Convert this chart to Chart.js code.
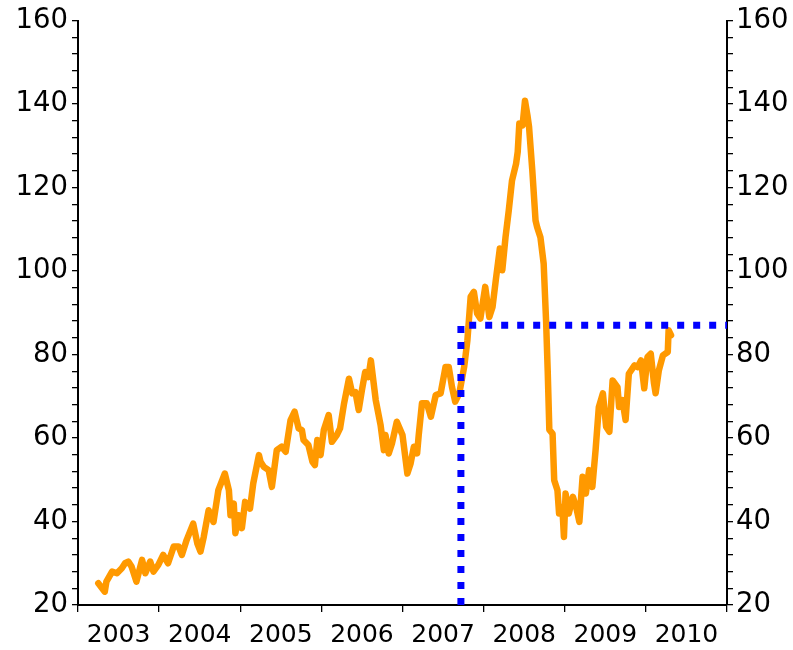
<!DOCTYPE html>
<html>
<head>
<meta charset="utf-8">
<script src="https://cdn.jsdelivr.net/npm/chart.js@4/dist/chart.umd.min.js"></script>
<style>
  html, body { margin: 0; padding: 0; background: #fff; }
  #wrap { width: 793px; height: 650px; position: relative; }
</style>
</head>
<body>
<div id="wrap"><canvas id="oilChart"></canvas></div>
<script>
/* ---------- data ---------- */
const priceDates = [
  2003.25, 2003.33, 2003.35, 2003.42, 2003.48, 2003.54, 2003.58, 2003.62, 2003.66, 2003.72,
  2003.79, 2003.83, 2003.89, 2003.93, 2003.99, 2004.05, 2004.11, 2004.18, 2004.24, 2004.28,
  2004.34, 2004.42, 2004.47, 2004.51, 2004.55, 2004.61, 2004.67, 2004.73, 2004.81, 2004.86,
  2004.88, 2004.92, 2004.94, 2004.98, 2005.02, 2005.06, 2005.12, 2005.16, 2005.23, 2005.25,
  2005.29, 2005.35, 2005.39, 2005.45, 2005.51, 2005.56, 2005.62, 2005.67, 2005.72, 2005.76,
  2005.78, 2005.84, 2005.89, 2005.92, 2005.95, 2005.99, 2006.03, 2006.09, 2006.13, 2006.19,
  2006.23, 2006.28, 2006.34, 2006.38, 2006.42, 2006.46, 2006.50, 2006.54, 2006.58, 2006.61,
  2006.67, 2006.73, 2006.77, 2006.79, 2006.83, 2006.87, 2006.93, 2007.00, 2007.06, 2007.10,
  2007.14, 2007.18, 2007.20, 2007.24, 2007.30, 2007.35, 2007.41, 2007.47, 2007.53, 2007.57,
  2007.61, 2007.65, 2007.70, 2007.76, 2007.80, 2007.84, 2007.88, 2007.92, 2007.96, 2008.02,
  2008.07, 2008.11, 2008.15, 2008.20, 2008.23, 2008.27, 2008.31, 2008.35, 2008.40, 2008.42,
  2008.44, 2008.48, 2008.51, 2008.54, 2008.56, 2008.60, 2008.64, 2008.66, 2008.70, 2008.74,
  2008.77, 2008.79, 2008.81, 2008.85, 2008.87, 2008.91, 2008.93, 2008.97, 2008.99, 2009.01,
  2009.05, 2009.10, 2009.14, 2009.18, 2009.22, 2009.26, 2009.30, 2009.34, 2009.38, 2009.42,
  2009.47, 2009.51, 2009.55, 2009.59, 2009.65, 2009.67, 2009.71, 2009.75, 2009.79, 2009.86,
  2009.90, 2009.94, 2009.98, 2010.02, 2010.06, 2010.10, 2010.12, 2010.16, 2010.21, 2010.27,
  2010.28, 2010.31
];
const oilPrice = [
  25.2, 23.2, 25.6, 28.0, 27.6, 28.8, 30.0, 30.4, 29.2, 25.6,
  30.8, 27.6, 30.4, 28.0, 29.6, 32.0, 30.0, 34.0, 34.0, 32.0,
  35.6, 39.5, 34.8, 32.8, 36.3, 42.7, 39.9, 47.5, 51.5, 47.5,
  41.5, 44.3, 37.2, 41.5, 38.4, 44.7, 43.1, 49.1, 55.9, 54.3,
  53.1, 52.3, 48.3, 57.1, 57.9, 56.7, 64.3, 66.3, 62.3, 61.9,
  59.5, 58.3, 54.3, 53.5, 59.5, 55.9, 61.9, 65.5, 59.1, 60.7,
  62.3, 68.3, 74.2, 70.7, 71.0, 66.7, 71.5, 75.8, 74.6, 78.6,
  69.1, 63.1, 57.1, 60.7, 56.3, 58.7, 63.9, 60.7, 51.5, 53.9,
  57.9, 56.3, 60.7, 68.3, 68.3, 65.1, 70.3, 70.7, 77.0, 77.0,
  72.2, 68.7, 70.7, 77.0, 83.4, 93.8, 95.0, 89.8, 88.6, 96.2,
  89.0, 91.4, 97.8, 105.4, 100.2, 108.1, 114.5, 121.7, 125.7, 128.5,
  135.3, 134.9, 140.8, 137.3, 134.5, 124.1, 112.1, 110.5, 108.1, 101.8,
  88.0, 76.0, 62.0, 61.0, 49.9, 47.5, 41.9, 43.5, 36.3, 46.7,
  41.9, 45.9, 43.5, 39.9, 50.7, 46.7, 52.3, 48.3, 57.1, 67.4,
  70.7, 62.7, 61.5, 73.8, 72.2, 67.4, 69.1, 64.3, 75.4, 77.4,
  77.0, 78.6, 71.9, 79.4, 80.2, 73.1, 70.7, 76.2, 79.8, 80.6,
  85.8, 84.6
];

// reference level: marker date and price
const markDate = 2007.72;
const markPrice = 87;

const yearLabels = ['2003', '2004', '2005', '2006', '2007', '2008', '2009', '2010'];
const xMin = 2003, xMax = 2011;
const yMin = 20, yMax = 160;

/* ---------- build datasets ---------- */
const pricePoints = priceDates.map((d, i) => ({ x: d, y: oilPrice[i] }));
const markPoints = [
  { x: markDate, y: yMin },
  { x: markDate, y: markPrice },
  { x: xMax, y: markPrice }
];

const fontY = { family: 'DejaVu Sans', size: 27.5 };
const fontX = { family: 'DejaVu Sans', size: 25 };

function yAxis(pos, width, pad) {
  return {
    type: 'linear',
    position: pos,
    min: yMin,
    max: yMax,
    afterFit: s => { s.width = width; },
    grid: { drawOnChartArea: false, tickLength: 6, color: '#000', lineWidth: 1.3 },
    border: { display: true, color: '#000', width: 2 },
    ticks: {
      stepSize: 4,
      padding: pad,
      color: '#000',
      font: fontY,
      autoSkip: false,
      callback: v => (v % 20 === 0 ? String(v) : '')
    }
  };
}

new Chart(document.getElementById('oilChart'), {
  type: 'line',
  data: {
    datasets: [
      {
        data: markPoints,
        borderColor: '#0000ff',
        borderWidth: 7,
        borderDash: [7, 9],
        borderCapStyle: 'butt',
        pointRadius: 0,
        tension: 0,
        clip: false
      },
      {
        data: pricePoints,
        borderColor: '#ff9900',
        borderWidth: 6.5,
        borderJoinStyle: 'round',
        borderCapStyle: 'round',
        pointRadius: 0,
        tension: 0
      }
    ]
  },
  options: {
    responsive: true,
    maintainAspectRatio: false,
    animation: false,
    layout: { padding: { top: 20, left: 0, right: 0, bottom: 0 } },
    plugins: { legend: { display: false }, tooltip: { enabled: false } },
    scales: {
      x: {
        type: 'linear',
        min: xMin,
        max: xMax,
        afterFit: s => { s.height = 45; },
        grid: {
          drawOnChartArea: false,
          tickLength: 7,
          lineWidth: 1.3,
          tickColor: ctx => (ctx.tick && ctx.tick.value % 1 === 0 ? '#000' : 'rgba(0,0,0,0)')
        },
        border: { display: true, color: '#000', width: 2 },
        ticks: {
          stepSize: 0.5,
          padding: 8,
          color: '#000',
          font: fontX,
          autoSkip: false,
          maxRotation: 0,
          callback: v => {
            const i = Math.floor(v) - xMin;
            return (v % 1 === 0.5 && i >= 0 && i < yearLabels.length) ? yearLabels[i] : '';
          }
        }
      },
      y: yAxis('left', 78, 4),
      y2: yAxis('right', 66, 3)
    }
  }
});
</script>
</body>
</html>
